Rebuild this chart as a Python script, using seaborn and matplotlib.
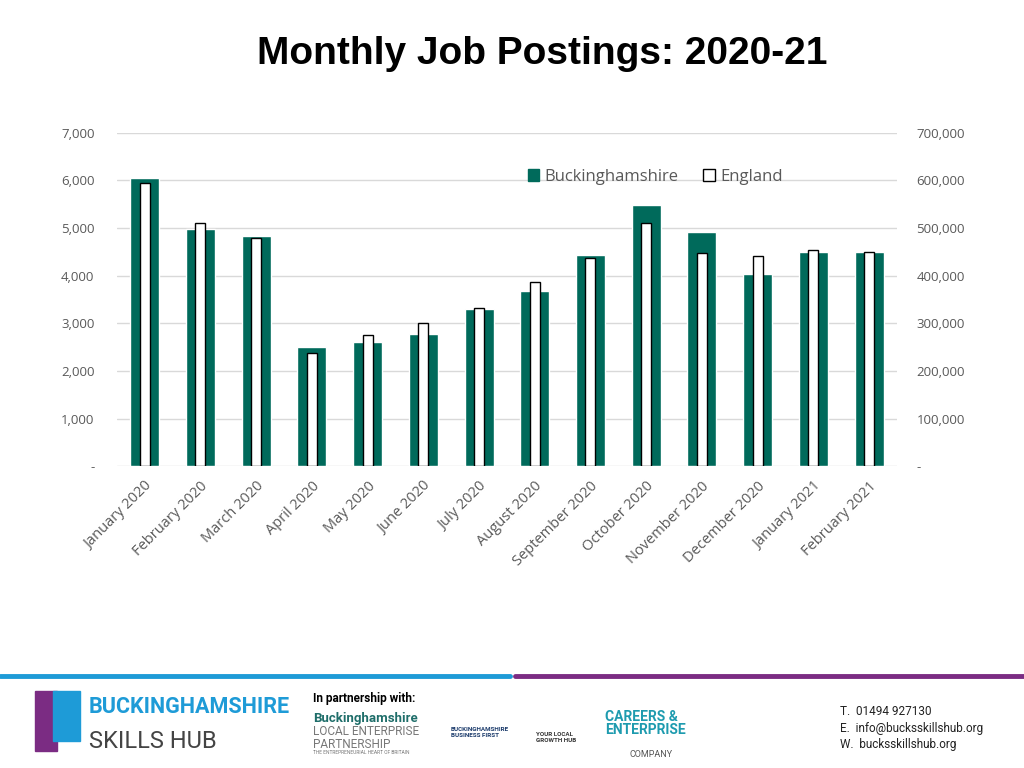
import numpy as np
import seaborn as sns
import matplotlib.pyplot as plt
from matplotlib.patches import Patch, Rectangle
from matplotlib.ticker import FuncFormatter

sns.set_theme(style="white")
plt.rcParams['font.family'] = ['Open Sans', 'DejaVu Sans']

months = ['January 2020', 'February 2020', 'March 2020', 'April 2020', 'May 2020',
          'June 2020', 'July 2020', 'August 2020', 'September 2020', 'October 2020',
          'November 2020', 'December 2020', 'January 2021', 'February 2021']
bucks = [6060, 4990, 4840, 2500, 2610, 2780, 3300, 3680, 4440, 5480, 4910, 4040, 4500, 4490]
england = [594000, 511000, 479000, 238000, 275000, 300000, 333000, 387000,
           437000, 510000, 447000, 442000, 453000, 449000]

teal = '#006A5B'
grey = '#595959'

fig = plt.figure(figsize=(10.24, 7.68), dpi=100)
ax = fig.add_axes([0.114, 0.393, 0.762, 0.434])

sns.barplot(x=months, y=bucks, color=teal, width=0.52, saturation=1, ax=ax, zorder=2)
ax.set_ylim(0, 7000)
ax.set_yticks(range(0, 7001, 1000))
ax.yaxis.set_major_formatter(FuncFormatter(lambda v, p: '-' if v == 0 else f'{int(v):,}'))
ax.grid(axis='y', color='#D9D9D9', lw=1, zorder=0)
ax.set_axisbelow(True)

ax2 = ax.twinx()
sns.barplot(x=months, y=england, color='white', edgecolor='black', linewidth=1,
            width=0.18, saturation=1, ax=ax2, zorder=3)
ax2.set_ylim(0, 700000)
ax2.set_yticks(range(0, 700001, 100000))
ax2.yaxis.set_major_formatter(FuncFormatter(lambda v, p: '-' if v == 0 else f'{int(v):,}'))
ax2.grid(False)

for a in (ax, ax2):
    for s in a.spines.values():
        s.set_visible(False)
    a.tick_params(axis='both', length=0, labelsize=9.5, colors=grey)
    a.set_xlabel('')
    a.set_ylabel('')
ax.tick_params(axis='y', pad=16)
ax2.tick_params(axis='y', pad=14)
ax.set_xlim(-0.5, len(months) - 0.5)
ax.set_xticks(range(len(months)))
ax.set_xticklabels(months, rotation=45, ha='right', rotation_mode='anchor',
                   fontsize=10.5, color=grey)
ax.tick_params(axis='x', pad=9)

handles = [Patch(facecolor=teal, edgecolor=teal, label='Buckinghamshire'),
           Patch(facecolor='white', edgecolor='black', label='England')]
ax2.legend(handles=handles, loc='center', bbox_to_anchor=(0.69, 0.869), ncol=2,
           frameon=False, fontsize=12, labelcolor=grey, handlelength=0.7,
           handleheight=0.7, handletextpad=0.3, columnspacing=1.5)

fig.text(0.53, 0.93, 'Monthly Job Postings: 2020-21', ha='center', va='center',
         fontsize=28, fontweight='bold', family=['Liberation Sans', 'DejaVu Sans'],
         color='black')

# footer
fig.add_artist(plt.Line2D([0, 0.498], [0.12, 0.12], color='#1E9BD7', lw=3.5))
fig.add_artist(plt.Line2D([0.503, 1], [0.12, 0.12], color='#7B2C83', lw=3.5))
fig.add_artist(Rectangle((0.034, 0.022), 0.022, 0.078, color='#7B2C83'))
fig.add_artist(Rectangle((0.052, 0.035), 0.026, 0.065, color='#1E9BD7'))
fig.text(0.087, 0.08, 'BUCKINGHAMSHIRE', fontsize=15.5, fontweight='bold',
         color='#1E9BD7', va='center', family=['Roboto', 'DejaVu Sans'])
fig.text(0.087, 0.035, 'SKILLS HUB', fontsize=17, color='#444444', va='center',
         family=['Roboto', 'DejaVu Sans'])
fig.text(0.306, 0.09, 'In partnership with:', fontsize=8.5, fontweight='bold',
         color='black', va='center', family=['Roboto', 'DejaVu Sans'])
fig.text(0.306, 0.065, 'Buckinghamshire', fontsize=9.5, fontweight='bold',
         color='#1F6E6A', va='center', family=['Roboto', 'DejaVu Sans'])
fig.text(0.306, 0.047, 'LOCAL ENTERPRISE', fontsize=8.5, color='#777777',
         va='center', family=['Roboto', 'DejaVu Sans'])
fig.text(0.306, 0.031, 'PARTNERSHIP', fontsize=8.5, color='#777777',
         va='center', family=['Roboto', 'DejaVu Sans'])
fig.text(0.306, 0.02, 'THE ENTREPRENEURIAL HEART OF BRITAIN', fontsize=3.5,
         color='#777777', va='center', family=['Roboto', 'DejaVu Sans'])
fig.text(0.44, 0.046, 'BUCKINGHAMSHIRE\nBUSINESS FIRST', fontsize=4.5,
         fontweight='bold', color='#1A3A6B', va='center', ha='left',
         family=['Roboto', 'DejaVu Sans'])
fig.text(0.523, 0.04, 'YOUR LOCAL\nGROWTH HUB', fontsize=4.5, fontweight='bold',
         color='#333333', va='center', ha='left', family=['Roboto', 'DejaVu Sans'])
fig.text(0.591, 0.058, 'CAREERS &\nENTERPRISE', fontsize=10, fontweight='bold',
         color='#1E9BAF', va='center', ha='left', linespacing=0.95,
         family=['Roboto', 'DejaVu Sans'])
fig.text(0.615, 0.018, 'COMPANY', fontsize=6.5, color='#555555', va='center',
         family=['Roboto', 'DejaVu Sans'])
for i, line in enumerate(['T.  01494 927130', 'E.  info@bucksskillshub.org',
                          'W.  bucksskillshub.org']):
    fig.text(0.82, 0.073 - i * 0.0215, line, fontsize=8.5, color='#222222',
             va='center', family=['Roboto', 'DejaVu Sans'])

fig.savefig('out.png', dpi=100)
